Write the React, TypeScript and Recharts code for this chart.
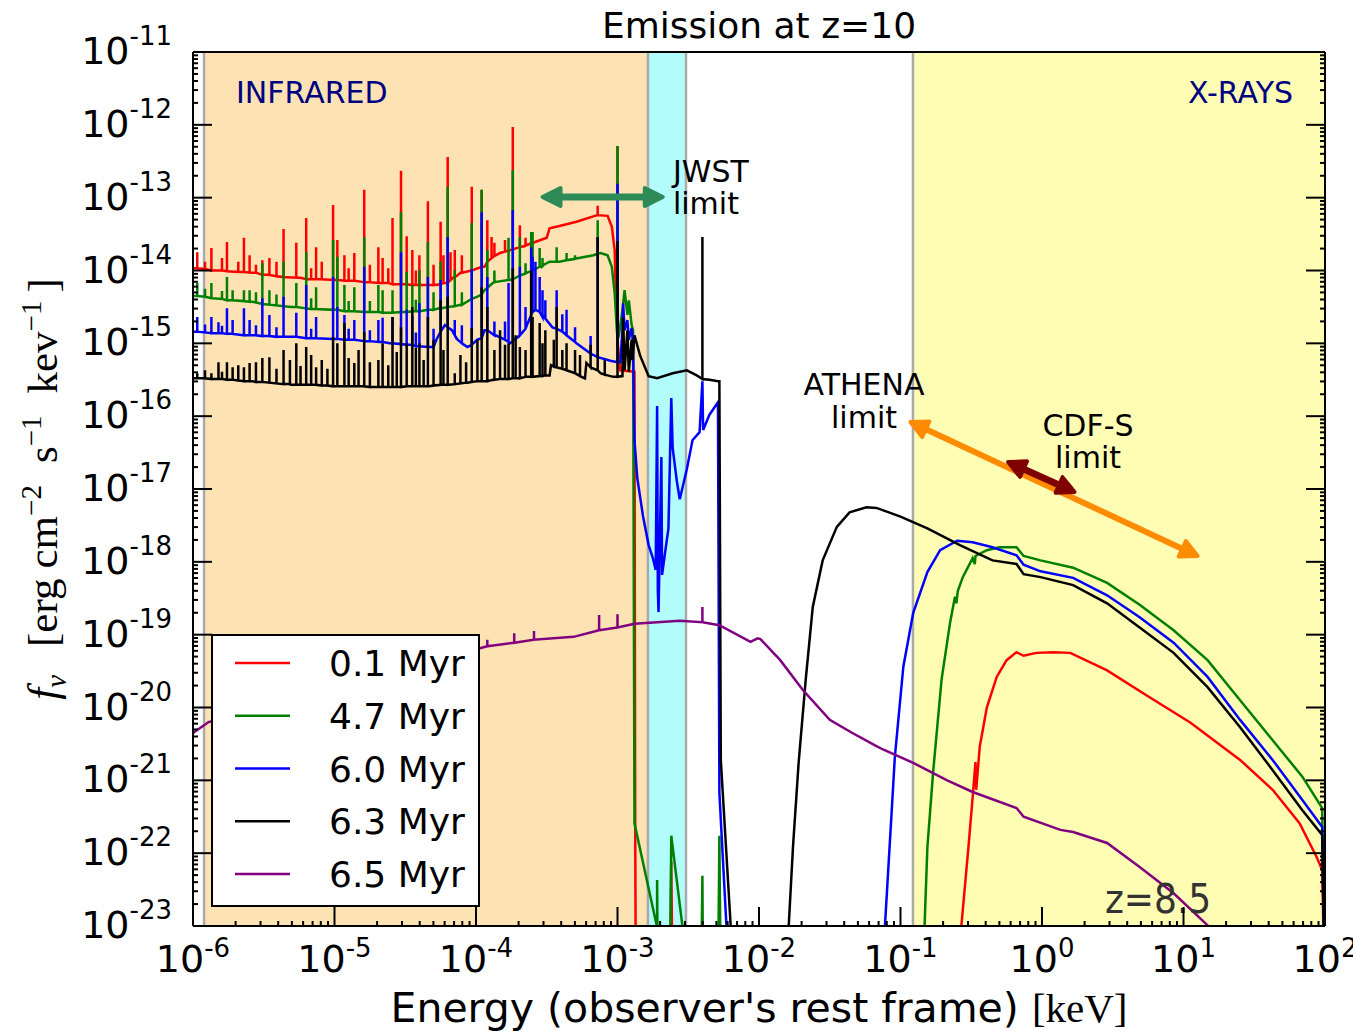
import React from "react";
import {
  ComposedChart,
  Line,
  XAxis,
  YAxis,
  ReferenceArea,
  ReferenceLine,
  ReferenceDot,
  Legend,
} from "recharts";

// all values below are log10 (keV for x, erg cm^-2 s^-1 keV^-1 for y)
const X_DECADES = [-6, -5, -4, -3, -2, -1, 0, 1, 2];
const Y_DECADES = [-23, -22, -21, -20, -19, -18, -17, -16, -15, -14, -13, -12, -11];
const MINOR_STEPS = [2, 3, 4, 5, 6, 7, 8, 9];

// infrared start, infrared end / JWST band start, JWST band end, x-ray start, axis end
const BAND_EDGES = [-5.922, -2.785, -2.516, -0.912, 2];

// [x1, y1, x2, y2]
const JWST_ARROW = [-3.53, -12.99, -2.68, -12.99];
const ATHENA_ARROW = [-0.93, -16.08, 1.1, -17.92];
const CDFS_ARROW = [-0.24, -16.63, 0.23, -17.04];

type P = [number, number];
type S = [number, number, number]; // [x, continuum, line peak]

const RED_CONT: P[] = [
  [-6.0, -13.97], [-5.58, -14.03], [-5.24, -14.1], [-4.89, -14.14], [-4.54, -14.19], [-4.33, -14.2],
  [-4.21, -14.17], [-4.14, -14.08], [-4.11, -14.03], [-3.94, -13.95], [-3.83, -13.76], [-3.64, -13.65],
  [-3.5, -13.55], [-3.48, -13.42], [-3.41, -13.39], [-3.29, -13.33], [-3.16, -13.25], [-3.07, -13.25],
  [-3.04, -13.4], [-3.02, -13.72], [-3.015, -14.09], [-2.99, -15.2], [-2.98, -15.37], [-2.88, -15.39],
  [-2.875, -21.59], [-2.87, -24], [-2.63, -24], [-2.62, -22.11], [-2.61, -24], [-0.58, -24],
  [-0.57, -23.0], [-0.52, -21.92], [-0.49, -21.23], [-0.47, -20.75], [-0.465, -21.13], [-0.44, -20.54],
  [-0.39, -20.0], [-0.32, -19.58], [-0.25, -19.35], [-0.18, -19.24], [-0.13, -19.29], [-0.04, -19.25],
  [0.08, -19.24], [0.2, -19.25], [0.46, -19.49], [0.76, -19.86], [1.05, -20.21], [1.4, -20.72],
  [1.63, -21.13], [1.82, -21.59], [1.94, -22.05], [1.98, -22.23], [2.0, -24],
];
const RED_LINES: S[] = [
  [-5.97, -13.97, -13.75], [-5.87, -14.0, -13.69], [-5.76, -14.01, -13.61], [-5.64, -14.02, -13.55],
  [-5.6, -14.03, -13.79], [-5.51, -14.06, -13.86], [-5.46, -14.06, -13.83], [-5.36, -14.09, -13.43],
  [-5.27, -14.1, -13.62], [-5.2, -14.12, -13.28], [-5.13, -14.12, -13.68], [-5.01, -14.13, -13.1],
  [-4.98, -14.13, -13.58], [-4.93, -14.14, -13.79], [-4.86, -14.14, -13.76], [-4.79, -14.16, -12.89],
  [-4.69, -14.17, -13.68], [-4.66, -14.17, -13.83], [-4.59, -14.19, -13.28], [-4.53, -14.19, -12.63],
  [-4.49, -14.19, -13.53], [-4.45, -14.2, -13.72], [-4.4, -14.2, -13.79], [-4.34, -14.2, -13.05],
  [-4.25, -14.19, -13.33], [-4.2, -14.17, -12.44], [-4.18, -14.13, -13.75], [-4.15, -14.08, -13.72],
  [-4.03, -14.0, -12.85], [-3.96, -13.95, -12.89], [-3.92, -13.88, -13.31], [-3.89, -13.83, -13.54],
  [-3.74, -13.71, -12.03], [-3.69, -13.68, -13.38], [-3.14, -13.24, -13.11], [-3.0, -14.95, -12.29],
  // weaker lines
  [-5.915, -13.98, -13.88], [-5.795, -14.0, -13.83], [-5.68, -14.02, -13.88], [-5.555, -14.03, -13.92],
  [-5.41, -14.08, -13.88], [-5.165, -14.12, -13.97], [-5.09, -14.12, -13.88], [-4.9, -14.14, -13.97],
  [-4.75, -14.16, -13.92], [-4.62, -14.17, -13.97], [-4.425, -14.2, -14.0], [-4.3, -14.2, -13.92],
  [-4.23, -14.17, -13.79], [-4.1, -14.03, -13.79], [-3.87, -13.8, -13.62], [-3.795, -13.74, -13.58],
  [-3.65, -13.66, -13.55],
];

const GREEN_CONT: P[] = [
  [-6.0, -14.35], [-5.58, -14.43], [-5.31, -14.5], [-4.89, -14.56], [-4.61, -14.58], [-4.41, -14.56],
  [-4.26, -14.52], [-4.11, -14.47], [-3.99, -14.36], [-3.94, -14.27], [-3.88, -14.17], [-3.76, -14.13],
  [-3.64, -14.03], [-3.52, -13.92], [-3.48, -13.88], [-3.41, -13.88], [-3.17, -13.79], [-3.12, -13.76],
  [-3.07, -13.79], [-3.04, -13.95], [-3.02, -14.31], [-2.99, -14.89], [-2.965, -14.54], [-2.95, -14.27],
  [-2.93, -14.61], [-2.92, -14.41], [-2.9, -14.75], [-2.89, -14.82], [-2.88, -21.59], [-2.72, -23.02],
  [-2.72, -22.37], [-2.715, -24], [-2.63, -24], [-2.62, -21.76], [-2.54, -23.02], [-2.535, -24],
  [-2.41, -24], [-2.4, -22.31], [-2.395, -24], [-2.29, -24], [-2.28, -21.76], [-2.27, -24],
  [-0.84, -24], [-0.83, -23.0], [-0.81, -21.92], [-0.77, -20.9], [-0.71, -19.62], [-0.65, -18.84],
  [-0.615, -18.48], [-0.605, -18.57], [-0.595, -18.4], [-0.56, -18.21], [-0.49, -17.95], [-0.475, -18.03],
  [-0.47, -17.92], [-0.39, -17.84], [-0.3, -17.8], [-0.18, -17.8], [-0.13, -17.92], [-0.01, -17.98],
  [0.22, -18.08], [0.46, -18.29], [0.69, -18.59], [0.93, -18.94], [1.17, -19.35], [1.4, -19.9],
  [1.63, -20.45], [1.84, -20.95], [1.98, -21.38], [2.0, -24],
];
const GREEN_LINES: S[] = [
  [-5.97, -14.35, -14.17], [-5.87, -14.38, -14.17], [-5.76, -14.41, -14.09], [-5.72, -14.41, -14.27],
  [-5.64, -14.42, -14.27], [-5.6, -14.43, -14.27], [-5.51, -14.46, -13.9], [-5.46, -14.47, -14.27],
  [-5.36, -14.49, -13.88], [-5.27, -14.5, -14.17], [-5.2, -14.52, -13.75], [-5.13, -14.53, -14.23],
  [-5.01, -14.54, -13.58], [-4.98, -14.54, -13.81], [-4.93, -14.56, -14.2], [-4.86, -14.56, -14.23],
  [-4.79, -14.57, -13.54], [-4.69, -14.57, -14.2], [-4.66, -14.58, -14.27], [-4.59, -14.58, -14.27],
  [-4.53, -14.57, -13.2], [-4.49, -14.57, -14.02], [-4.45, -14.56, -14.2], [-4.4, -14.56, -14.0],
  [-4.34, -14.54, -13.61], [-4.25, -14.52, -13.88], [-4.2, -14.5, -12.85], [-4.15, -14.49, -14.0],
  [-4.03, -14.39, -13.35], [-3.96, -14.33, -12.89], [-3.92, -14.24, -13.72], [-3.77, -14.13, -13.55],
  [-3.74, -14.12, -12.62], [-3.69, -14.07, -13.54], [-3.61, -14.01, -13.47], [-3.6, -14.0, -13.47],
  [-3.55, -13.95, -13.69], [-3.53, -13.94, -13.83], [-3.43, -13.88, -13.68], [-3.36, -13.86, -13.76],
  [-3.3, -13.84, -13.79], [-3.14, -13.77, -13.31], [-3.0, -14.95, -12.29],
  // weaker lines
  [-5.915, -14.36, -14.25], [-5.795, -14.39, -14.28], [-5.555, -14.44, -14.3], [-5.41, -14.48, -14.33],
  [-5.165, -14.53, -14.38], [-4.9, -14.56, -14.42], [-4.75, -14.57, -14.42], [-4.425, -14.56, -14.4],
  [-4.3, -14.54, -14.3], [-4.1, -14.47, -14.3], [-3.87, -14.16, -14.0], [-3.65, -14.04, -13.9],
];

const BLUE_CONT: P[] = [
  [-6.0, -14.84], [-5.58, -14.89], [-5.31, -14.91], [-4.89, -14.95], [-4.61, -15.0], [-4.33, -15.05],
  [-4.28, -14.95], [-4.22, -14.75], [-4.17, -14.82], [-4.13, -14.95], [-4.06, -15.05], [-3.99, -14.95],
  [-3.94, -14.82], [-3.87, -14.89], [-3.76, -15.0], [-3.69, -14.89], [-3.64, -14.75], [-3.58, -14.54],
  [-3.53, -14.64], [-3.46, -14.78], [-3.41, -14.82], [-3.29, -15.0], [-3.17, -15.16], [-3.05, -15.24],
  [-2.98, -15.26], [-2.965, -14.82], [-2.96, -14.45], [-2.95, -14.82], [-2.93, -14.68], [-2.92, -14.95],
  [-2.9, -14.79], [-2.89, -15.0], [-2.88, -16.33], [-2.86, -16.85], [-2.82, -17.37], [-2.78, -17.77],
  [-2.75, -17.95], [-2.73, -18.11], [-2.72, -15.86], [-2.715, -18.39], [-2.71, -18.69], [-2.69, -16.56],
  [-2.685, -18.18], [-2.66, -17.82], [-2.64, -17.54], [-2.62, -15.75], [-2.61, -16.44], [-2.58, -16.9],
  [-2.56, -17.14], [-2.51, -16.73], [-2.47, -16.33], [-2.42, -16.22], [-2.4, -15.52], [-2.395, -16.19],
  [-2.35, -15.98], [-2.29, -15.81], [-2.28, -21.17], [-2.23, -23.0], [-2.22, -24], [-1.12, -24],
  [-1.11, -23.0], [-1.07, -21.68], [-1.04, -20.68], [-0.98, -19.44], [-0.91, -18.7], [-0.81, -18.14],
  [-0.72, -17.84], [-0.6, -17.71], [-0.49, -17.73], [-0.35, -17.8], [-0.18, -17.91], [-0.13, -18.04],
  [-0.01, -18.13], [0.22, -18.22], [0.46, -18.46], [0.69, -18.76], [0.93, -19.11], [1.17, -19.58],
  [1.4, -20.17], [1.63, -20.72], [1.84, -21.27], [1.98, -21.64], [2.0, -24],
];
const BLUE_LINES: S[] = [
  [-5.97, -14.84, -14.64], [-5.87, -14.86, -14.64], [-5.82, -14.86, -14.71], [-5.76, -14.87, -14.52],
  [-5.72, -14.87, -14.68], [-5.64, -14.89, -14.52], [-5.6, -14.89, -14.68], [-5.51, -14.9, -14.38],
  [-5.46, -14.9, -14.61], [-5.36, -14.91, -14.36], [-5.27, -14.91, -14.58], [-5.2, -14.93, -14.2],
  [-5.13, -14.93, -14.64], [-5.01, -14.94, -14.09], [-4.98, -14.94, -14.5], [-4.93, -14.95, -14.61],
  [-4.86, -14.95, -14.68], [-4.79, -14.97, -13.95], [-4.69, -14.98, -14.68], [-4.66, -14.98, -14.65],
  [-4.59, -15.0, -14.64], [-4.53, -15.01, -13.75], [-4.49, -15.02, -14.54], [-4.45, -15.02, -14.61],
  [-4.4, -15.04, -14.45], [-4.34, -15.05, -14.09], [-4.25, -14.84, -14.13], [-4.2, -14.78, -13.54],
  [-4.15, -14.89, -14.68], [-4.03, -15.02, -13.98], [-3.96, -14.93, -13.2], [-3.92, -14.82, -14.09],
  [-3.77, -14.98, -14.17], [-3.74, -14.97, -13.17], [-3.69, -14.89, -13.95], [-3.61, -14.61, -13.68],
  [-3.6, -14.57, -13.81], [-3.58, -14.54, -13.88], [-3.55, -14.57, -14.09], [-3.53, -14.61, -14.27],
  [-3.51, -14.66, -14.41], [-3.43, -14.8, -14.27], [-3.36, -14.89, -14.54], [-3.3, -14.98, -14.78],
  [-3.14, -15.19, -13.54], [-3.0, -15.26, -12.81],
  // weaker lines
  [-5.915, -14.85, -14.74], [-5.795, -14.86, -14.76], [-5.555, -14.89, -14.75], [-5.41, -14.91, -14.78],
  [-5.165, -14.93, -14.8], [-4.9, -14.95, -14.8], [-4.75, -14.97, -14.82], [-4.425, -15.04, -14.85],
  [-4.3, -15.05, -14.8], [-4.1, -15.0, -14.75], [-3.87, -14.88, -14.7], [-3.795, -14.95, -14.7],
  [-3.65, -14.8, -14.5], [-3.39, -14.84, -14.6], [-3.19, -15.14, -14.9],
];

const BLACK_CONT: P[] = [
  [-6.0, -15.48], [-5.58, -15.52], [-5.31, -15.57], [-4.89, -15.59], [-4.61, -15.6], [-4.33, -15.59],
  [-4.06, -15.54], [-3.88, -15.5], [-3.64, -15.46], [-3.48, -15.44], [-3.47, -15.3], [-3.23, -15.48],
  [-3.22, -15.27], [-3.12, -15.41], [-3.03, -15.46], [-2.965, -15.45], [-2.96, -14.65], [-2.95, -15.37],
  [-2.93, -14.82], [-2.92, -15.39], [-2.9, -14.95], [-2.895, -15.23], [-2.88, -14.89], [-2.84, -15.17],
  [-2.78, -15.45], [-2.72, -15.48], [-2.61, -15.41], [-2.51, -15.37], [-2.44, -15.44], [-2.35, -15.5],
  [-2.29, -15.52], [-2.28, -15.52], [-2.27, -20.72], [-2.2, -23.0], [-2.19, -24], [-1.8, -24],
  [-1.79, -23.0], [-1.76, -21.92], [-1.72, -20.76], [-1.67, -19.62], [-1.62, -18.62], [-1.55, -17.98],
  [-1.45, -17.52], [-1.36, -17.32], [-1.24, -17.25], [-1.17, -17.26], [-1.0, -17.38], [-0.81, -17.54],
  [-0.58, -17.77], [-0.35, -17.98], [-0.18, -18.03], [-0.13, -18.17], [-0.01, -18.21], [0.22, -18.32],
  [0.46, -18.57], [0.69, -18.9], [0.93, -19.25], [1.17, -19.72], [1.4, -20.27], [1.63, -20.86],
  [1.84, -21.41], [1.98, -21.75], [2.0, -24],
];
const BLACK_LINES: S[] = [
  [-5.97, -15.48, -15.41], [-5.87, -15.49, -15.41], [-5.82, -15.49, -15.26], [-5.76, -15.5, -15.26],
  [-5.72, -15.5, -15.33], [-5.64, -15.52, -15.33], [-5.6, -15.52, -15.27], [-5.51, -15.53, -15.2],
  [-5.46, -15.54, -15.19], [-5.36, -15.56, -15.09], [-5.27, -15.57, -15.0], [-5.2, -15.57, -15.05],
  [-5.13, -15.57, -15.33], [-5.01, -15.59, -14.91], [-4.98, -15.59, -15.0], [-4.93, -15.59, -14.72],
  [-4.86, -15.59, -15.27], [-4.79, -15.59, -14.84], [-4.69, -15.6, -15.23], [-4.66, -15.6, -15.0],
  [-4.59, -15.6, -14.64], [-4.53, -15.6, -14.78], [-4.49, -15.59, -15.0], [-4.45, -15.59, -14.5],
  [-4.4, -15.59, -15.0], [-4.34, -15.59, -14.64], [-4.25, -15.57, -14.41], [-4.2, -15.57, -14.36],
  [-4.15, -15.56, -15.41], [-4.03, -15.53, -14.79], [-3.96, -15.52, -14.23], [-3.92, -15.52, -14.5],
  [-3.77, -15.49, -15.0], [-3.74, -15.48, -13.97], [-3.69, -15.48, -15.05], [-3.61, -15.46, -14.0],
  [-3.6, -15.46, -14.64], [-3.55, -15.45, -14.72], [-3.53, -15.45, -15.0], [-3.43, -15.33, -14.5],
  [-3.36, -15.37, -15.0], [-3.3, -15.41, -15.09], [-3.14, -15.37, -13.54], [-3.0, -15.46, -13.6],
  [-2.4, -15.49, -13.54],
  // weaker lines
  [-5.915, -15.48, -15.37], [-5.795, -15.49, -15.39], [-5.68, -15.51, -15.3], [-5.555, -15.53, -15.26],
  [-5.41, -15.55, -15.35], [-5.315, -15.56, -15.23], [-5.24, -15.57, -15.31], [-5.165, -15.57, -15.16],
  [-5.09, -15.58, -15.23], [-5.05, -15.58, -15.35], [-4.9, -15.59, -15.2], [-4.83, -15.59, -15.09],
  [-4.75, -15.6, -15.26], [-4.62, -15.6, -15.3], [-4.56, -15.6, -15.12], [-4.425, -15.59, -15.06],
  [-4.37, -15.59, -15.23], [-4.3, -15.58, -14.95], [-4.23, -15.57, -15.09], [-4.11, -15.55, -15.16],
  [-4.07, -15.54, -15.26], [-3.99, -15.52, -14.95], [-3.87, -15.5, -15.09], [-3.83, -15.49, -14.82],
  [-3.795, -15.49, -15.02], [-3.72, -15.48, -14.89], [-3.65, -15.46, -15.09], [-3.51, -15.44, -14.82],
  [-3.45, -15.32, -14.95], [-3.39, -15.35, -15.09], [-3.265, -15.45, -15.16], [-3.19, -15.33, -15.02],
  [-3.09, -15.43, -15.23],
];

const PURPLE_CONT: P[] = [
  [-6.0, -20.35], [-5.89, -20.2], [-3.96, -19.18], [-3.31, -19.03], [-2.88, -18.85], [-2.56, -18.81],
  [-2.28, -18.87], [-2.06, -19.1], [-2.01, -19.05], [-1.99, -19.06], [-1.85, -19.35], [-1.69, -19.76],
  [-1.5, -20.17], [-1.34, -20.35], [-1.18, -20.52], [-1.12, -20.58], [-0.91, -20.76], [-0.67, -21.0],
  [-0.49, -21.16], [-0.18, -21.38], [-0.13, -21.5], [0.13, -21.68], [0.22, -21.71], [0.46, -21.86],
  [0.69, -22.19], [0.93, -22.55], [1.17, -22.99], [1.22, -23.12],
];
const PURPLE_LINES: S[] = [
  [-3.92, -19.16, -19.07], [-3.73, -19.11, -18.98], [-3.59, -19.07, -18.95],
  [-3.13, -18.94, -18.73], [-3.0, -18.9, -18.72], [-2.4, -18.83, -18.62],
];

function build(cont: P[], lines: S[]) {
  const pts: P[] = [...cont];
  lines.forEach(([x, b, t]) => pts.push([x, b], [x, t], [x, b]));
  pts.sort((a, b) => a[0] - b[0]);
  return pts.map(([x, y]) => ({ e: 10 ** x, f: 10 ** y }));
}

const SERIES = [
  { name: "0.1 Myr", color: "#ff0000", data: build(RED_CONT, RED_LINES) },
  { name: "4.7 Myr", color: "#008000", data: build(GREEN_CONT, GREEN_LINES) },
  { name: "6.0 Myr", color: "#0000ff", data: build(BLUE_CONT, BLUE_LINES) },
  { name: "6.3 Myr", color: "#000000", data: build(BLACK_CONT, BLACK_LINES) },
  { name: "6.5 Myr", color: "#800080", data: build(PURPLE_CONT, PURPLE_LINES) },
];

const withMinor = (decades: number[]) => {
  const out: number[] = [];
  decades.forEach((d, i) => {
    out.push(10 ** d);
    if (i < decades.length - 1) MINOR_STEPS.forEach((m) => out.push(m * 10 ** d));
  });
  return out;
};
const X_TICKS = withMinor(X_DECADES);
const Y_TICKS = withMinor(Y_DECADES);
const X_DOMAIN = [10 ** X_DECADES[0], 10 ** X_DECADES[X_DECADES.length - 1]];
const Y_DOMAIN = [10 ** Y_DECADES[0], 10 ** Y_DECADES[Y_DECADES.length - 1]];

const FONT = "DejaVu Sans, sans-serif";
const SERIF = "Liberation Serif, DejaVu Serif, serif";
const MAJOR = 19;
const MINOR = 5;

const isMajor = (v: number) => {
  const l = Math.log10(v);
  return Math.abs(l - Math.round(l)) < 1e-6;
};
const expo = (v: number) => String(Math.round(Math.log10(v)));

function TickBottom(props: any) {
  const { x, y, payload } = props;
  const major = isMajor(payload.value);
  return (
    <g>
      <line x1={x} x2={x} y1={y} y2={y - (major ? MAJOR : MINOR)} stroke="#000" strokeWidth={2} />
      {major && (
        <text x={x} y={y + 46} textAnchor="middle" fontFamily={FONT} fontSize={38} fill="#000">
          10<tspan dy={-15} fontSize={26}>{expo(payload.value)}</tspan>
        </text>
      )}
    </g>
  );
}

function TickTop(props: any) {
  const { x, y, payload } = props;
  const major = isMajor(payload.value);
  return <line x1={x} x2={x} y1={y} y2={y + (major ? MAJOR : MINOR)} stroke="#000" strokeWidth={2} />;
}

function TickLeft(props: any) {
  const { x, y, payload } = props;
  const major = isMajor(payload.value);
  return (
    <g>
      <line x1={x} x2={x + (major ? MAJOR : MINOR)} y1={y} y2={y} stroke="#000" strokeWidth={2} />
      {major && (
        <text x={x - 21} y={y + 12} textAnchor="end" fontFamily={FONT} fontSize={38} fill="#000">
          10<tspan dy={-19} fontSize={26}>{expo(payload.value)}</tspan>
        </text>
      )}
    </g>
  );
}

function TickRight(props: any) {
  const { x, y, payload } = props;
  const major = isMajor(payload.value);
  return <line x1={x} x2={x - (major ? MAJOR : MINOR)} y1={y} y2={y} stroke="#000" strokeWidth={2} />;
}

function Title(props: any) {
  const { x, width } = props.viewBox;
  return (
    <text x={x + width / 2} y={38} textAnchor="middle" fontFamily={FONT} fontSize={36} fill="#000">
      Emission at z=10
    </text>
  );
}

function XLabel(props: any) {
  const { x, y, width } = props.viewBox;
  return (
    <text x={x + width / 2} y={y + 96} textAnchor="middle" fontFamily={FONT} fontSize={41} fill="#000">
      Energy (observer's rest frame) <tspan fontFamily={SERIF}>[keV]</tspan>
    </text>
  );
}

function YLabel(props: any) {
  const { y, height } = props.viewBox;
  const cy = y + height / 2;
  return (
    <text transform={`translate(57, ${cy}) rotate(-90)`} textAnchor="middle" fontFamily={SERIF} fontSize={43} fill="#000">
      <tspan fontStyle="italic">f</tspan>
      <tspan fontStyle="italic" fontSize={29} dy={9}>ν</tspan>
      <tspan dy={-9} dx={28}>[erg</tspan>
      <tspan dx={10}>cm</tspan>
      <tspan fontSize={29} dy={-16}>−2</tspan>
      <tspan dy={16} dx={22}>s</tspan>
      <tspan fontSize={29} dy={-16}>−1</tspan>
      <tspan dy={16} dx={22}>kev</tspan>
      <tspan fontSize={29} dy={-16}>−1</tspan>
      <tspan dy={16} dx={8}>]</tspan>
    </text>
  );
}

function Note(props: any) {
  const { viewBox, lines, anchor = "start", fill = "#000", size = 30, gap = 32, family = FONT } = props;
  const x = viewBox.x + (viewBox.width || 0) / 2;
  const y = viewBox.y + (viewBox.height || 0) / 2;
  return (
    <text x={x} y={y} textAnchor={anchor} fill={fill} fontSize={size} fontFamily={family}>
      {lines.map((t: string, i: number) => (
        <tspan key={t} x={x} dy={i === 0 ? 0 : gap}>
          {t}
        </tspan>
      ))}
    </text>
  );
}

function Arrow(props: any) {
  const { x1, y1, x2, y2, color, width, head } = props;
  const len = Math.hypot(x2 - x1, y2 - y1) || 1;
  const ux = (x2 - x1) / len;
  const uy = (y2 - y1) / len;
  const nx = -uy;
  const ny = ux;
  const hl = head;
  const hw = head * 0.5;
  const tri = (tx: number, ty: number, s: number) => {
    const bx = tx - s * ux * hl;
    const by = ty - s * uy * hl;
    return `${tx},${ty} ${bx + nx * hw},${by + ny * hw} ${bx - nx * hw},${by - ny * hw}`;
  };
  return (
    <g>
      <line
        x1={x1 + ux * hl * 0.8}
        y1={y1 + uy * hl * 0.8}
        x2={x2 - ux * hl * 0.8}
        y2={y2 - uy * hl * 0.8}
        stroke={color}
        strokeWidth={width}
      />
      <polygon points={tri(x2, y2, 1)} fill={color} stroke={color} strokeWidth={4} strokeLinejoin="round" />
      <polygon points={tri(x1, y1, -1)} fill={color} stroke={color} strokeWidth={4} strokeLinejoin="round" />
    </g>
  );
}

function LegendBox() {
  return (
    <svg width={269} height={273} style={{ display: "block" }}>
      <rect x={1} y={1} width={267} height={271} fill="#fff" stroke="#000" strokeWidth={2} />
      {SERIES.map((s, i) => {
        const ry = 29 + i * 52.75;
        return (
          <g key={s.name}>
            <line x1={24} x2={79} y1={ry} y2={ry} stroke={s.color} strokeWidth={2.3} />
            <text x={118} y={ry + 13} fontFamily={FONT} fontSize={36} fill="#000">
              {s.name}
            </text>
          </g>
        );
      })}
    </svg>
  );
}

const seg = (a: number[]) => [
  { x: 10 ** a[0], y: 10 ** a[1] },
  { x: 10 ** a[2], y: 10 ** a[3] },
];

export default function App() {
  const ax = { xAxisId: "x", yAxisId: "y" };
  return (
    <div style={{ position: "absolute", left: 0, top: 0 }}>
      <ComposedChart width={1353} height={1031} margin={{ top: 50, right: 26, left: 0, bottom: 0 }}>
        <XAxis
          xAxisId="x"
          dataKey="e"
          type="number"
          scale="log"
          domain={X_DOMAIN}
          allowDataOverflow
          ticks={X_TICKS}
          interval={0}
          tickSize={0}
          tickMargin={0}
          tickLine={false}
          tick={<TickBottom />}
          height={105}
          axisLine={{ stroke: "#000", strokeWidth: 2 }}
          label={<XLabel />}
        />
        <XAxis
          xAxisId="top"
          orientation="top"
          type="number"
          scale="log"
          domain={X_DOMAIN}
          allowDataOverflow
          ticks={X_TICKS}
          interval={0}
          tickSize={0}
          tickMargin={0}
          tickLine={false}
          tick={<TickTop />}
          height={2}
          axisLine={{ stroke: "#000", strokeWidth: 2 }}
          label={<Title />}
        />
        <YAxis
          yAxisId="y"
          type="number"
          scale="log"
          domain={Y_DOMAIN}
          allowDataOverflow
          ticks={Y_TICKS}
          interval={0}
          tickSize={0}
          tickMargin={0}
          tickLine={false}
          tick={<TickLeft />}
          width={193}
          axisLine={{ stroke: "#000", strokeWidth: 2 }}
          label={<YLabel />}
        />
        <YAxis
          yAxisId="right"
          orientation="right"
          type="number"
          scale="log"
          domain={Y_DOMAIN}
          allowDataOverflow
          ticks={Y_TICKS}
          interval={0}
          tickSize={0}
          tickMargin={0}
          tickLine={false}
          tick={<TickRight />}
          width={2}
          axisLine={{ stroke: "#000", strokeWidth: 2 }}
        />

        <ReferenceArea {...ax} x1={10 ** BAND_EDGES[0]} x2={10 ** BAND_EDGES[1]} fill="#fde3b4" fillOpacity={1} stroke="none" />
        <ReferenceArea {...ax} x1={10 ** BAND_EDGES[1]} x2={10 ** BAND_EDGES[2]} fill="#b2fcfc" fillOpacity={1} stroke="none" />
        <ReferenceArea {...ax} x1={10 ** BAND_EDGES[3]} x2={10 ** BAND_EDGES[4]} fill="#fffdb4" fillOpacity={1} stroke="none" />
        {BAND_EDGES.slice(0, 4).map((e) => (
          <ReferenceLine key={e} {...ax} x={10 ** e} stroke="#aaaaaa" strokeWidth={2.5} />
        ))}

        {SERIES.map((s) => (
          <Line
            key={s.name}
            {...ax}
            data={s.data}
            dataKey="f"
            name={s.name}
            type="linear"
            stroke={s.color}
            strokeWidth={2.5}
            dot={false}
            activeDot={false}
            isAnimationActive={false}
          />
        ))}

        <ReferenceLine {...ax} segment={seg(JWST_ARROW)} shape={(p: any) => <Arrow {...p} color="#2e8b57" width={7} head={18} />} />
        <ReferenceLine {...ax} segment={seg(ATHENA_ARROW)} shape={(p: any) => <Arrow {...p} color="#ff8c00" width={6} head={17} />} />
        <ReferenceLine {...ax} segment={seg(CDFS_ARROW)} shape={(p: any) => <Arrow {...p} color="#800000" width={7} head={17} />} />

        <ReferenceDot {...ax} x={10 ** -5.696} y={10 ** -11.7} r={0} label={<Note lines={["INFRARED"]} fill="#000080" />} />
        <ReferenceDot {...ax} x={10 ** 1.774} y={10 ** -11.7} r={0} label={<Note lines={["X-RAYS"]} anchor="end" fill="#000080" />} />
        <ReferenceDot {...ax} x={10 ** -2.608} y={10 ** -12.785} r={0} label={<Note lines={["JWST", "limit"]} />} />
        <ReferenceDot {...ax} x={10 ** -1.258} y={10 ** -15.71} r={0} label={<Note lines={["ATHENA", "limit"]} anchor="middle" gap={33} />} />
        <ReferenceDot {...ax} x={10 ** 0.325} y={10 ** -16.27} r={0} label={<Note lines={["CDF-S", "limit"]} anchor="middle" />} />
        <ReferenceDot
          {...ax}
          x={10 ** 0.445}
          y={10 ** -22.82}
          r={0}
          label={<Note lines={["z=8.5"]} size={40} fill="#333333" family="DejaVu Sans Condensed, DejaVu Sans, sans-serif" />}
        />

        <Legend
          layout="horizontal"
          verticalAlign="middle"
          align="center"
          width={269}
          height={273}
          wrapperStyle={{ left: 211, top: 634, width: 269, height: 273 }}
          content={() => <LegendBox />}
        />
      </ComposedChart>
    </div>
  );
}
